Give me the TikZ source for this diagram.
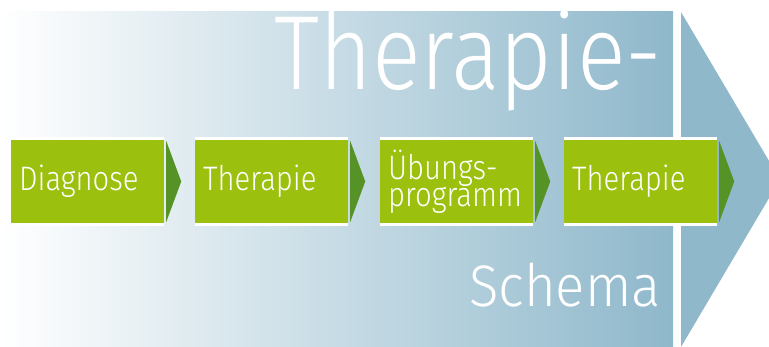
\documentclass[tikz,border=0pt]{standalone}
\usepackage{fontspec}
\setmainfont{Fira Sans Light}[FakeStretch=0.86]
\newfontfamily\wideface{Fira Sans Light}[FakeStretch=0.93]
\definecolor{bgblue}{RGB}{143,184,203}
\definecolor{boxgreen}{RGB}{155,192,14}
\definecolor{tipgreen}{RGB}{86,147,38}
\begin{document}
\begin{tikzpicture}[x=0.3mm,y=-0.3mm,
    stage/.style={fill=boxgreen,text=white,
      minimum width=45.9mm,minimum height=24.75mm,inner sep=0pt,
      text width=41mm,align=left,font=\fontsize{29}{21.8}\selectfont},
    rim/.style={white,line width=0.85mm},
    tip/.style={fill=tipgreen},
    heading/.style={text=white,inner sep=0pt}]
                \useasboundingbox (0,0) rectangle (769,347);
                % background and big arrow
                \shade[left color=white,right color=bgblue] (0,12) rectangle (673,347);
                \fill[bgblue] (681,12) -- (780,179.5) -- (681,347) -- cycle;
                \node[heading,anchor=base west,font=\fontsize{90}{90}\selectfont] (title) at (274,90) {Therapie-};
                \node[heading,anchor=base west,font=\wideface\fontsize{50}{50}\selectfont] (schema) at (469,307) {Schema};
                % stages
                \node[stage] (diag) at (87.5,181.5) {Diagnose};
                \node[stage] (ther) at (271.5,181.5) {Therapie};
                \node[stage] (uebung) at (456.5,181.5) {Übungs-\\programm};
                \node[stage] (ther2) at (640.5,181.5) {Therapie};
                % white rims above and below
                \draw[rim] (diag.north west) ++(0,-1.5) -- ++(153,0);
                \draw[rim] (diag.south west) ++(0,1.5) -- ++(153,0);
                \draw[rim] (ther.north west) ++(0,-1.5) -- ++(153,0);
                \draw[rim] (ther.south west) ++(0,1.5) -- ++(153,0);
                \draw[rim] (uebung.north west) ++(0,-1.5) -- ++(153,0);
                \draw[rim] (uebung.south west) ++(0,1.5) -- ++(153,0);
                \draw[rim] (ther2.north west) ++(0,-1.5) -- ++(153,0);
                \draw[rim] (ther2.south west) ++(0,1.5) -- ++(153,0);
                % arrow tips
                \fill[tip] (diag.east) ++(2,-40.5) -- ++(15,40.5) -- ++(-15,40.5) -- cycle;
                \fill[tip] (ther.east) ++(2,-40.5) -- ++(15,40.5) -- ++(-15,40.5) -- cycle;
                \fill[tip] (uebung.east) ++(2,-40.5) -- ++(15,40.5) -- ++(-15,40.5) -- cycle;
                \fill[tip] (ther2.east) ++(2,-40.5) -- ++(15,40.5) -- ++(-15,40.5) -- cycle;
            \end{tikzpicture}
\end{document}
